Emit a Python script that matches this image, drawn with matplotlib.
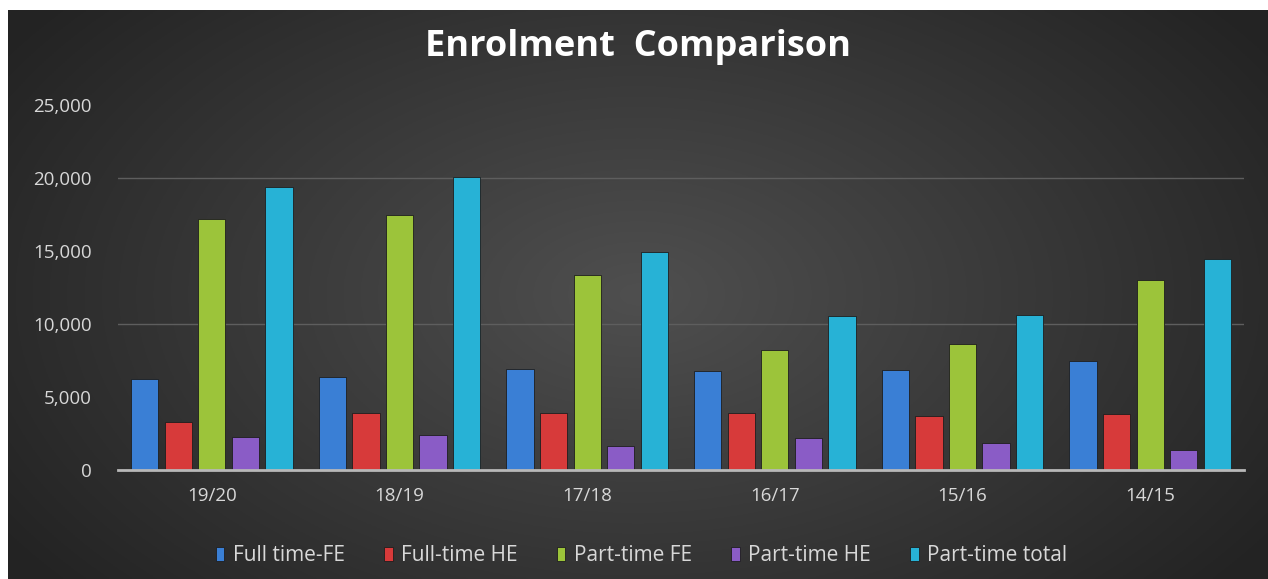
import numpy as np
import matplotlib
matplotlib.use("Agg")
import matplotlib.pyplot as plt
from matplotlib.ticker import FuncFormatter, MultipleLocator

years = ["19/20", "18/19", "17/18", "16/17", "15/16", "14/15"]
series_names = ["Full time-FE", "Full-time HE", "Part-time FE", "Part-time HE", "Part-time total"]
full_time_fe = [6250, 6350, 6950, 6800, 6850, 7500]
full_time_he = [3300, 3900, 3900, 3900, 3700, 3850]
part_time_fe = [17200, 17500, 13350, 8250, 8600, 13000]
part_time_he = [2250, 2400, 1650, 2200, 1850, 1350]
part_time_total = [19350, 20050, 14950, 10550, 10600, 14450]
colors = ["#3a7fd5", "#d73a3a", "#9cc43a", "#8a5cc6", "#27b2d6"]

plt.rcParams["font.family"] = ["Open Sans", "DejaVu Sans"]

fig = plt.figure(figsize=(12.68, 5.79), dpi=100)
fig.patch.set_facecolor("white")

# dark radial background of the chart area
bg = fig.add_axes([8 / 1268, 0, 1 - 8 / 1268, 569 / 579], zorder=0)
yy, xx = np.mgrid[-1:1:300j, -1:1:600j]
r = np.sqrt((xx / 1.05) ** 2 + (yy / 1.4) ** 2)
g = np.clip(0.31 - 0.15 * r, 0.14, 0.31)
bg.imshow(np.dstack([g, g, g]), aspect="auto", extent=(0, 1, 0, 1))
bg.set_axis_off()

ax = fig.add_axes([118 / 1268, 109 / 579, (1244 - 118) / 1268, (470 - 105) / 579], zorder=1)
ax.patch.set_alpha(0)

values = [full_time_fe, full_time_he, part_time_fe, part_time_he, part_time_total]
x = np.arange(len(years))
step = 0.179
width = 0.145
for i, (name, vals, c) in enumerate(zip(series_names, values, colors)):
    ax.bar(x + (i - 2) * step, vals, width=width, color=c, label=name, zorder=3,
           edgecolor="#1e1e1e", linewidth=0.6)

ax.set_xlim(-0.5, len(years) - 0.5)
ax.set_ylim(0, 25000)
ax.yaxis.set_major_locator(MultipleLocator(5000))
ax.yaxis.set_major_formatter(FuncFormatter(lambda v, p: f"{int(v):,}"))
for gy in [10000, 20000]:
    ax.axhline(gy, color="#5e5e5e", linewidth=1, zorder=1)
ax.set_xticks(x)
ax.set_xticklabels(years)
ax.tick_params(axis="both", length=0, colors="#d8d8d8", labelsize=13.5)
ax.tick_params(axis="x", pad=12)
ax.tick_params(axis="y", pad=19)
for s in ["top", "right", "left"]:
    ax.spines[s].set_visible(False)
ax.spines["bottom"].set_color("#b8b8b8")
ax.spines["bottom"].set_linewidth(2)
ax.spines["bottom"].set_zorder(4)

fig.text(0.503, 0.918, "Enrolment  Comparison", ha="center", va="center",
         color="white", fontsize=26, fontweight="bold")

leg = ax.legend(loc="center", bbox_to_anchor=(0.465, -0.235), ncol=5, frameon=False,
                fontsize=15, handlelength=0.4, handleheight=0.65, handletextpad=0.4,
                columnspacing=1.9)
for t in leg.get_texts():
    t.set_color("#d8d8d8")

fig.savefig("out.png", dpi=100, facecolor=fig.get_facecolor())
